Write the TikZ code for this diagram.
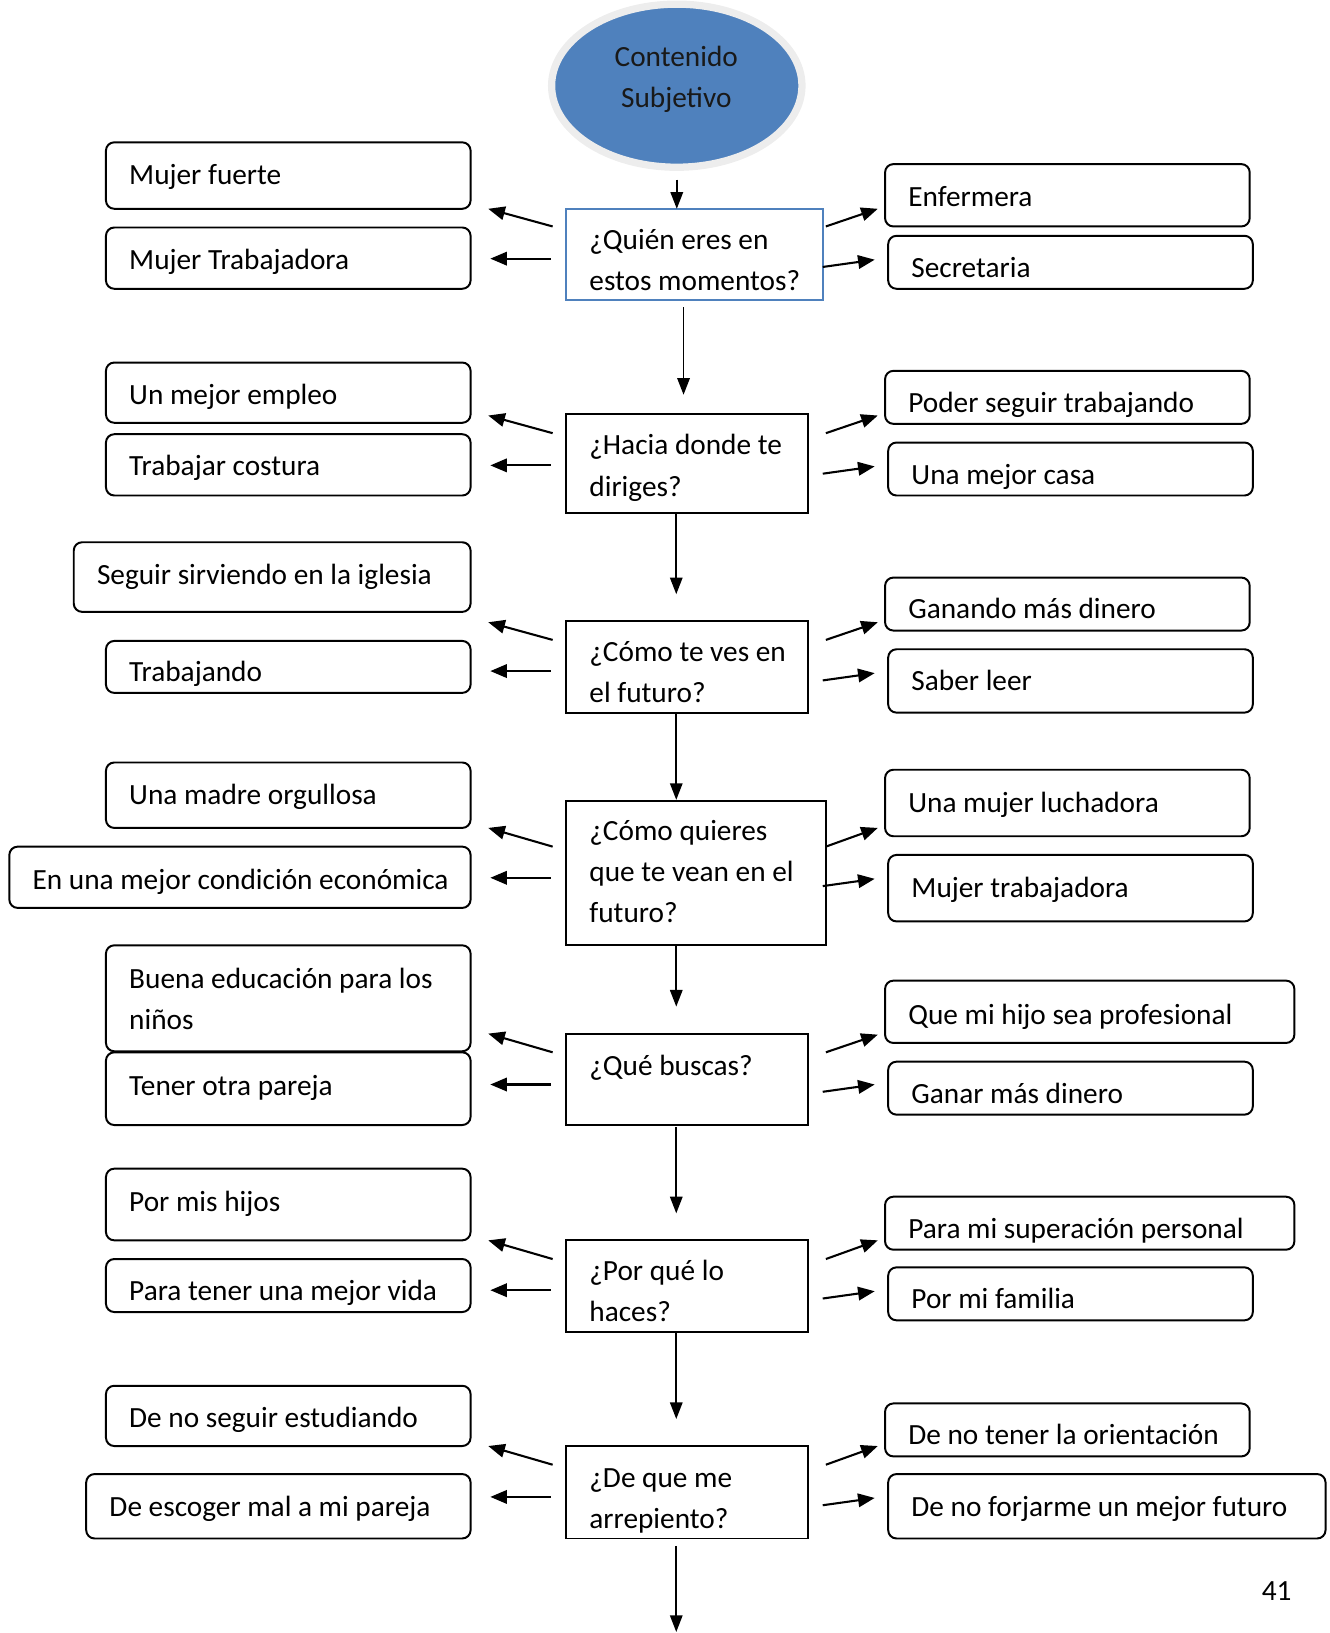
\documentclass[tikz,border=0pt]{standalone}
\usepackage{fontspec}
\setmainfont{Carlito}
\usetikzlibrary{arrows.meta,fit,shapes.geometric}
\definecolor{accent}{HTML}{4F81BD}
\definecolor{ring}{HTML}{EDEDED}
\newcommand\bx[8]{%
  \path (#3,#4) coordinate (#2nw) (#5,#6) coordinate (#2se);
  \node[#1, fit=(#2nw)(#2se)] (#2) {};
  \node[lbl] (#2t) at (#3+22,#7+2) {#8};}
\newcommand\ml[1]{\begin{tabular}[t]{@{}l@{}}#1\end{tabular}}
\begin{document}
\begin{tikzpicture}[x=0.5pt,y=-0.5pt,
  every node/.style={font=\fontsize{14.1}{19.75}\selectfont},
  ans/.style={draw=black, line width=0.95pt, rounded corners=4pt, inner sep=0pt, outer sep=0pt},
  qbox/.style={draw=black, line width=0.95pt, inner sep=0pt, outer sep=0pt},
  qblue/.style={draw=accent, line width=0.8pt, inner sep=0pt, outer sep=0pt},
  lbl/.style={anchor=base west, inner sep=0pt, text=black},
  arr/.style={line width=1pt, -{Triangle[length=8pt,width=6.5pt]}},
  varr/.style={line width=0.8pt, -{Triangle[length=8pt,width=6pt]}},
]
\useasboundingbox (0,0) rectangle (1280,1572);

% top ellipse
\node[ellipse, fill=accent, draw=ring, line width=3.5pt, inner sep=0pt, outer sep=0pt,
      minimum width=120.5pt, minimum height=78.5pt] (E) at (651.5,82.5) {};
\node[anchor=base, inner sep=0pt, text=black!90] (Et) at (651,64)
  {\begin{tabular}[t]{@{}c@{}}Contenido\\Subjetivo\end{tabular}};

% row 1
\bx{ans}{La1}{102}{137}{453}{201}{176}{Mujer fuerte}
\bx{ans}{Lb1}{102}{219}{453}{278}{257}{Mujer Trabajadora}
\bx{ans}{Ra1}{852}{158}{1203}{218}{197}{Enfermera}
\bx{ans}{Rb1}{855}{227}{1206}{278}{265}{Secretaria}
\bx{qblue}{Q1}{545}{201}{792}{289}{238}{\ml{¿Quién eres en\\estos momentos?}}
% row 2
\bx{ans}{La2}{102}{349}{453}{407}{387}{Un mejor empleo}
\bx{ans}{Lb2}{102}{418}{453}{477}{456}{Trabajar costura}
\bx{ans}{Ra2}{852}{357}{1203}{408}{395}{Poder seguir trabajando}
\bx{ans}{Rb2}{855}{426}{1206}{477}{464}{Una mejor casa}
\bx{qbox}{Q2}{545}{399}{778}{494}{436}{\ml{¿Hacia donde te\\diriges?}}
% row 3
\bx{ans}{La3}{71}{522}{453}{589}{561}{Seguir sirviendo en la iglesia}
\bx{ans}{Lb3}{102}{617}{453}{667}{654}{Trabajando}
\bx{ans}{Ra3}{852}{556}{1203}{607}{593}{Ganando más dinero}
\bx{ans}{Rb3}{855}{625}{1206}{686}{663}{Saber leer}
\bx{qbox}{Q3}{545}{598}{778}{686}{635}{\ml{¿Cómo te ves en\\el futuro?}}
% row 4
\bx{ans}{La4}{102}{734}{453}{797}{772}{Una madre orgullosa}
\bx{ans}{Lb4}{9}{815}{453}{874}{854}{En una mejor condición económica}
\bx{ans}{Ra4}{852}{741}{1203}{805}{780}{Una mujer luchadora}
\bx{ans}{Rb4}{855}{823}{1206}{887}{862}{Mujer trabajadora}
\bx{qbox}{Q4}{545}{771}{795}{910}{807}{\ml{¿Cómo quieres\\que te vean en el\\futuro?}}
% row 5
\bx{ans}{La5}{102}{910}{453}{1012}{950}{\ml{Buena educación para los\\niños}}
\bx{ans}{Lb5}{102}{1013}{453}{1083}{1053}{Tener otra pareja}
\bx{ans}{Ra5}{852}{944}{1246}{1004}{984}{Que mi hijo sea profesional}
\bx{ans}{Rb5}{855}{1022}{1206}{1073}{1060}{Ganar más dinero}
\bx{qbox}{Q5}{545}{995}{778}{1083}{1033}{¿Qué buscas?}
% row 6
\bx{ans}{La6}{102}{1125}{453}{1194}{1164}{Por mis hijos}
\bx{ans}{Lb6}{102}{1212}{453}{1263}{1250}{Para tener una mejor vida}
\bx{ans}{Ra6}{852}{1152}{1246}{1203}{1190}{Para mi superación personal}
\bx{ans}{Rb6}{855}{1220}{1206}{1271}{1258}{Por mi familia}
\bx{qbox}{Q6}{545}{1194}{778}{1282}{1231}{\ml{¿Por qué lo\\haces?}}
% row 7
\bx{ans}{La7}{102}{1334}{453}{1392}{1372}{De no seguir estudiando}
\bx{ans}{Lb7}{83}{1419}{453}{1481}{1458}{De escoger mal a mi pareja}
\bx{ans}{Ra7}{852}{1351}{1203}{1402}{1389}{De no tener la orientación}
\bx{ans}{Rb7}{855}{1419}{1276}{1481}{1458}{De no forjarme un mejor futuro}
\bx{qbox}{Q7}{545}{1392}{778}{1481}{1430}{\ml{¿De que me\\arrepiento?}}

\coordinate (end) at (651,1571);
\node[anchor=base, inner sep=0pt] (pg) at (1229,1541) {41};

% vertical flow
\draw[varr] ([shift={(0,12)}]E.south) -- (E.south |- Q1.north);
\draw[varr] ([shift={(113,7)}]Q1.south west) -- ([shift={(113,-19)}]Q2.north west);
\draw[varr] ([shift={(106,0)}]Q2.south west) -- ([shift={(106,-26)}]Q3.north west);
\draw[varr] ([shift={(106,0)}]Q3.south west) -- ([shift={(106,-1)}]Q4.north west);
\draw[varr] ([shift={(106,0)}]Q4.south west) -- ([shift={(106,-26)}]Q5.north west);
\draw[varr] ([shift={(106,2)}]Q5.south west) -- ([shift={(106,-26)}]Q6.north west);
\draw[varr] ([shift={(106,1)}]Q6.south west) -- ([shift={(106,-26)}]Q7.north west);
\draw[varr] ([shift={(106,7)}]Q7.south west) -- (end);

% row 1 arrows
\draw[arr] ([shift={(-13,17)}]Q1.north west) -- ([shift={(17,0)}]La1.south east);
\draw[arr] ([shift={(-15,48)}]Q1.north west) -- ([shift={(19,0.5)}]Lb1.east);
\draw[arr] ([shift={(3,17)}]Q1.north east) -- ([shift={(-7,-17)}]Ra1.south west);
\draw[arr] ([shift={(0,56)}]Q1.north east) -- ([shift={(-13,-2.5)}]Rb1.west);
% row 2
\draw[arr] ([shift={(-13,18)}]Q2.north west) -- ([shift={(17,-7)}]La2.south east);
\draw[arr] ([shift={(-15,49)}]Q2.north west) -- ([shift={(19,0.5)}]Lb2.east);
\draw[arr] ([shift={(17,18)}]Q2.north east) -- ([shift={(-7,-8)}]Ra2.south west);
\draw[arr] ([shift={(14,57)}]Q2.north east) -- ([shift={(-13,-2.5)}]Rb2.west);
% row 3
\draw[arr] ([shift={(-13,18)}]Q3.north west) -- ([shift={(17,10)}]La3.south east);
\draw[arr] ([shift={(-15,48)}]Q3.north west) -- ([shift={(19,4)}]Lb3.east);
\draw[arr] ([shift={(17,18)}]Q3.north east) -- ([shift={(-7,-8)}]Ra3.south west);
\draw[arr] ([shift={(14,57)}]Q3.north east) -- ([shift={(-13,-7.5)}]Rb3.west);
% row 4
\draw[arr] ([shift={(-13,44)}]Q4.north west) -- ([shift={(17,0)}]La4.south east);
\draw[arr] ([shift={(-15,74)}]Q4.north west) -- ([shift={(19,0.5)}]Lb4.east);
\draw[arr] ([shift={(0,44)}]Q4.north east) -- ([shift={(-7,-8)}]Ra4.south west);
\draw[arr] ([shift={(-3,82)}]Q4.north east) -- ([shift={(-13,-9)}]Rb4.west);
% row 5
\draw[arr] ([shift={(-13,18)}]Q5.north west) -- ([shift={(17,-17)}]La5.south east);
\draw[arr] ([shift={(-15,49)}]Q5.north west) -- ([shift={(19,-4)}]Lb5.east);
\draw[arr] ([shift={(17,18)}]Q5.north east) -- ([shift={(-7,-8)}]Ra5.south west);
\draw[arr] ([shift={(14,56)}]Q5.north east) -- ([shift={(-13,-3.5)}]Rb5.west);
% row 6
\draw[arr] ([shift={(-13,18)}]Q6.north west) -- ([shift={(17,0)}]La6.south east);
\draw[arr] ([shift={(-15,48)}]Q6.north west) -- ([shift={(19,4.5)}]Lb6.east);
\draw[arr] ([shift={(17,18)}]Q6.north east) -- ([shift={(-7,-9)}]Ra6.south west);
\draw[arr] ([shift={(14,56)}]Q6.north east) -- ([shift={(-13,-2.5)}]Rb6.west);
% row 7
\draw[arr] ([shift={(-13,18)}]Q7.north west) -- ([shift={(17,0)}]La7.south east);
\draw[arr] ([shift={(-15,49)}]Q7.north west) -- ([shift={(19,-9)}]Lb7.east);
\draw[arr] ([shift={(17,18)}]Q7.north east) -- ([shift={(-7,-10)}]Ra7.south west);
\draw[arr] ([shift={(14,57)}]Q7.north east) -- ([shift={(-13,-8)}]Rb7.west);
\end{tikzpicture}
\end{document}
